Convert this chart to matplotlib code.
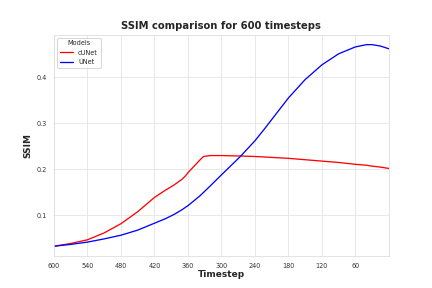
import numpy as np
import matplotlib
matplotlib.use("Agg")
import matplotlib.pyplot as plt
import seaborn as sns

# timestep remaining -> SSIM
t = [600, 570, 540, 510, 480, 450, 420, 400, 385, 371, 365, 359, 352, 345,
     338, 332, 320, 300, 266, 240, 224, 210, 180, 150, 120, 90, 60, 40, 30,
     15, 0]
cunet = [0.033, 0.039, 0.047, 0.062, 0.082, 0.108, 0.139, 0.155, 0.166, 0.178,
         0.185, 0.194, 0.203, 0.212, 0.221, 0.228, 0.230, 0.230, 0.229, 0.228,
         0.227, 0.226, 0.224, 0.221, 0.218, 0.215, 0.211, 0.209, 0.207, 0.205,
         0.202]
unet = [0.033, 0.037, 0.042, 0.049, 0.057, 0.068, 0.083, 0.093, 0.102, 0.112,
        0.117, 0.122, 0.129, 0.136, 0.143, 0.150, 0.164, 0.188, 0.228, 0.262,
        0.286, 0.308, 0.355, 0.395, 0.427, 0.451, 0.466, 0.471, 0.471, 0.468,
        0.462]
xticks = [0, 60, 120, 180, 240, 300, 360, 420, 480, 540]
xlabels = ["600", "540", "480", "420", "360", "300", "240", "180", "120", "60"]

sns.set_style("whitegrid", {"grid.color": "#e3e3e3", "axes.edgecolor": "#dddddd"})
plt.rcParams['font.family'] = ['DejaVu Sans']

fig, ax = plt.subplots(figsize=(6, 4), dpi=72)
x = 600 - np.array(t)
ax.plot(x, cunet, color="red", lw=1.3, label="cUNet")
ax.plot(x, unet, color="blue", lw=1.3, label="UNet")
ax.set_xlim(0, 600)
ax.set_xticks(xticks)
ax.set_xticklabels(xlabels)
ax.tick_params(labelsize=6.5, colors="#333333")
ax.set_title("SSIM comparison for 600 timesteps", fontsize=10, fontweight="bold", color="#262626")
ax.set_xlabel("Timestep", fontsize=9, fontweight="bold", color="#262626", labelpad=1)
ax.set_ylabel("SSIM", fontsize=9, fontweight="bold", color="#262626")
ax.legend(title="Models", fontsize=6.5, title_fontsize=6.5, loc="upper left")

plt.savefig("out.png", dpi=72)
